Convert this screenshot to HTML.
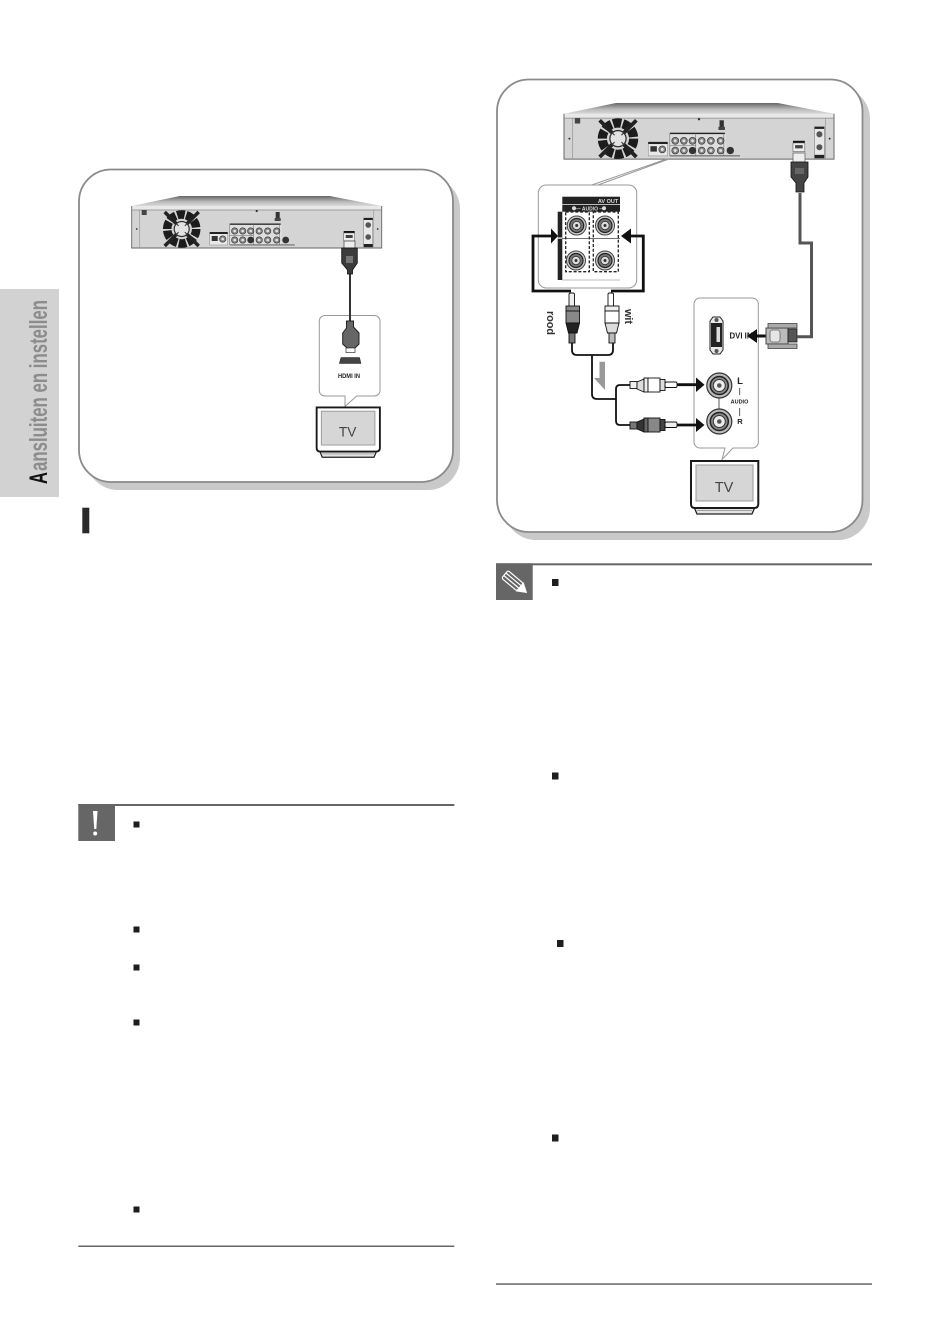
<!DOCTYPE html>
<html><head><meta charset="utf-8"><style>
html,body{margin:0;padding:0;background:#fff}
svg{display:block}
text{font-family:"Liberation Sans",sans-serif}
</style></head><body>
<svg xmlns="http://www.w3.org/2000/svg" width="950" height="1342" viewBox="0 0 950 1342">
<defs>
<linearGradient id="top" x1="0" y1="0" x2="0" y2="1"><stop offset="0" stop-color="#666"/><stop offset=".45" stop-color="#bbb"/><stop offset="1" stop-color="#f0f0f0"/></linearGradient>
<g id="jack"><circle r="3.2" fill="#888" stroke="#333" stroke-width=".6"/><circle r="1.3" fill="#e5e5e5"/></g>
<g id="device">
<path d="M0 10 48 0H198L250 10V13H0Z" fill="url(#top)"/>
<rect x="0" y="11" width="250" height="41" fill="#d4d4d4"/>
<rect x="0" y="10" width="250" height="4" fill="#e8e8e8"/>
<path d="M0 10V52H250V10" fill="none" stroke="#666" stroke-width=".9"/>
<path d="M8 14V52M242 14V52" stroke="#999" stroke-width=".7"/>
<path d="M0 14H250" stroke="#888" stroke-width=".7"/>
<rect x="10" y="14" width="5" height="5" fill="#444"/>
<circle cx="50" cy="33" r="14.500" fill="none" stroke="#1c1c1c" stroke-width="8.500" stroke-dasharray="7.500 1.600"/>
<path d="M33 16 67 50M67 16 33 50" stroke="#222" stroke-width="3.500"/>
<circle cx="50" cy="33" r="7.500" fill="#e2e2e2" stroke="#333" stroke-width="1.200"/>
<path d="M44 27 56 39M56 27 44 39" stroke="#333" stroke-width="1"/>
<circle cx="50" cy="33" r="4.500" fill="#e2e2e2"/>
<rect x="144" y="16" width="4" height="7" fill="#333"/><rect x="143" y="22" width="6" height="3" fill="#444"/>
<rect x="78" y="37" width="18" height="12" fill="#e8e8e8" stroke="#888" stroke-width=".5"/>
<rect x="78" y="36" width="18" height="2" fill="#222"/>
<rect x="80" y="40" width="6" height="5" fill="#333"/><use href="#jack" x="91" y="43"/>
<rect x="98" y="29" width="52" height="19" fill="#dedede"/>
<rect x="98" y="27.500" width="51" height="1.300" fill="#222"/>
<path d="M98 28V49M122 28V49M148 28V49M98 39.500H122" stroke="#666" stroke-width=".5"/>
<rect x="98" y="48.500" width="65" height=".9" fill="#555"/>
<use href="#jack" x="103" y="35"/><use href="#jack" x="111" y="35"/><use href="#jack" x="119" y="35"/>
<use href="#jack" x="103" y="44"/><use href="#jack" x="111" y="44"/><circle cx="119" cy="44" r="3.400" fill="#333"/>
<use href="#jack" x="127.500" y="35"/><use href="#jack" x="136" y="35"/><use href="#jack" x="145" y="35"/>
<use href="#jack" x="127.500" y="44"/><use href="#jack" x="136" y="44"/><use href="#jack" x="145" y="44"/>
<circle cx="154" cy="44" r="3.400" fill="#333"/>
<rect x="212" y="35" width="11" height="2" fill="#111"/><rect x="212" y="37" width="11" height="8" fill="#eee" stroke="#555" stroke-width=".5"/><rect x="214" y="39" width="7" height="3" fill="#444"/>
<rect x="232" y="22" width="9" height="29" fill="#e8e8e8" stroke="#777" stroke-width=".5"/>
<rect x="232" y="22" width="9" height="2" fill="#222"/><rect x="232" y="48" width="9" height="3" fill="#222"/>
<circle cx="236.500" cy="29" r="2.800" fill="#555"/><circle cx="236.500" cy="41" r="2.800" fill="#555"/>
<circle cx="5" cy="33" r=".9" fill="#333"/><circle cx="246" cy="33" r=".9" fill="#333"/><circle cx="125" cy="15" r="1.100" fill="#333"/>
</g>
<g id="tv">
<path d="M4 47 7 54H62L65 47Z" fill="#e4e4e4" stroke="#222" stroke-width="1.300"/>
<path d="M7 50.500H62" stroke="#888" stroke-width=".7"/>
<path d="M1 1H68.300V44Q68.300 48 64 48H5Q1 48 1 44Z" fill="#fff" stroke="#1a1a1a" stroke-width="2"/>
<rect x="6" y="5" width="57" height="36" fill="#d6d6d6" stroke="#999" stroke-width="1"/>
<text x="34" y="32" font-size="14.500" fill="#444" text-anchor="middle">TV</text>
</g>
<g id="bigjack"><circle r="12.500" fill="#bbb" stroke="#333" stroke-width="1.200"/><circle r="9" fill="#888" stroke="#222" stroke-width="1.500"/><circle r="6" fill="#eee" stroke="#333" stroke-width="1"/><circle r="2.300" fill="#555"/></g>
<g id="jack2"><circle r="9.500" fill="#ccc" stroke="#444" stroke-width="1"/><circle r="7" fill="#777" stroke="#222" stroke-width="1.200"/><circle r="4.200" fill="#ddd" stroke="#333" stroke-width=".8"/><circle r="1.500" fill="#333"/></g>
</defs>

<!-- sidebar -->
<rect x="0" y="289" width="59" height="208" fill="#d2d2d2"/>
<g transform="translate(47,484) rotate(-90)">
<text x="0" y="0" font-size="25" font-weight="bold" fill="#111" textLength="12" lengthAdjust="spacingAndGlyphs">A</text>
<text x="13" y="0" font-size="25" font-weight="bold" fill="#8c8c8c" textLength="171" lengthAdjust="spacingAndGlyphs">ansluiten en instellen</text>
</g>

<!-- left panel -->
<rect x="86" y="177" width="374" height="313" rx="32" fill="#c9c9c9"/>
<rect x="79" y="169.500" width="374" height="312.500" rx="32" fill="#fff" stroke="#8a8a8a" stroke-width="1.800"/>
<use href="#device" transform="translate(131.700,196)"/>
<path d="M350 270V322" stroke="#333" stroke-width="2"/>
<path d="M344 241V248H355V241Z" fill="#eee" stroke="#444" stroke-width=".7"/>
<path d="M341.700 248H357.300V263L352.500 270V274H347.500V270L341.700 263Z" fill="#3b3b3b" stroke="#111" stroke-width=".8"/>
<rect x="346" y="256" width="7" height="7" fill="#777"/>
<path d="M319.300 321a5.500 5.500 0 0 1 5.500-5.500H374.500a5.500 5.500 0 0 1 5.500 5.500V390.500a5.500 5.500 0 0 1-5.500 5.500H356.700L345 406.500V396H324.800a5.500 5.500 0 0 1-5.500-5.500Z" fill="#fff" stroke="#999" stroke-width="1"/>
<path d="M350 315V322" stroke="#333" stroke-width="2"/>
<path d="M346.500 321H353.500V327L359 333V344L355 348H347L342.700 344V333L346.500 328Z" fill="#666" stroke="#222" stroke-width="1"/>
<rect x="346" y="348" width="9" height="4.500" fill="#fff" stroke="#333" stroke-width=".7"/>
<path d="M341 357.500H359.500L361 363.500H339.300Z" fill="#444" stroke="#222" stroke-width=".5"/>
<text x="349" y="378" font-size="6.500" font-weight="bold" fill="#222" text-anchor="middle" textLength="22" lengthAdjust="spacingAndGlyphs">HDMI IN</text>
<use href="#tv" transform="translate(315.700,406.500) scale(.94,.94)"/>

<!-- left lower -->
<rect x="82.300" y="507.700" width="7" height="25.600" fill="#2a2a2a"/>
<rect x="78.300" y="804" width="376" height="2" fill="#666"/>
<rect x="78.300" y="804" width="36.700" height="37" fill="#666"/>
<path d="M93 811H97.500L96.300 829H94.200Z" fill="#fff"/><circle cx="95.200" cy="833.500" r="2" fill="#fff"/>
<g fill="#1e1e1e">
<rect x="133.500" y="821.500" width="6" height="6"/>
<rect x="133.500" y="926.500" width="6" height="6"/>
<rect x="133.500" y="964.500" width="6" height="6"/>
<rect x="133.500" y="1019.500" width="6" height="6"/>
<rect x="133.500" y="1206.500" width="6" height="6"/>
</g>
<rect x="78.300" y="1245.500" width="376" height="1.500" fill="#666"/>

<!-- right panel -->
<rect x="504" y="87" width="366" height="453" rx="32" fill="#c9c9c9"/>
<rect x="497" y="79.500" width="365.500" height="452.500" rx="32" fill="#fff" stroke="#8a8a8a" stroke-width="1.800"/>
<use href="#device" transform="translate(564,103) scale(1.08)"/>

<path d="M591.700 185 666.700 159M598 185 669 159" stroke="#999" stroke-width="1" fill="none"/>
<rect x="538.300" y="185" width="98.400" height="103" rx="8" fill="#fff" stroke="#999" stroke-width="1"/>
<rect x="562.300" y="196.700" width="57.700" height="7.600" fill="#222"/>
<text x="608" y="202.800" font-size="5.500" font-weight="bold" fill="#ddd" text-anchor="middle">AV OUT</text>
<rect x="562.300" y="205" width="57.700" height="6.700" fill="#222"/>
<text x="590" y="210.300" font-size="5" font-weight="bold" fill="#ddd" text-anchor="middle">— AUDIO —</text>
<circle cx="574" cy="208.300" r="2" fill="#ddd"/><circle cx="604" cy="208.300" r="2" fill="#ddd"/>
<rect x="557.700" y="211.700" width="4.600" height="68.300" fill="#222"/>
<rect x="557.700" y="237.500" width="4.600" height="1.200" fill="#fff"/>
<path d="M562 238.500H620" stroke="#444" stroke-width=".8"/>
<path d="M562 280H620" stroke="#aaa" stroke-width=".8"/>
<g fill="none" stroke="#222" stroke-width="1.300" stroke-dasharray="3 1.800">
<rect x="565.700" y="212" width="23.600" height="59.700"/>
<rect x="593.300" y="212" width="25" height="59.700"/>
</g>
<use href="#jack2" x="576.700" y="225.500"/><use href="#jack2" x="605" y="225.500"/>
<use href="#jack2" x="576" y="260.500"/><use href="#jack2" x="605" y="260.500"/>

<path d="M552 236H533V291H571" fill="none" stroke="#111" stroke-width="2.800"/>
<path d="M623 236H643.300V291H611" fill="none" stroke="#111" stroke-width="2.800"/>
<path d="M551 228.500 558 236 551 243.500Z" fill="#111"/>
<path d="M631 228.500 621 236 631 243.500Z" fill="#111"/>

<!-- rca vertical plugs -->
<g stroke="#111" stroke-width=".9">
<rect x="569" y="293" width="5.500" height="14" rx="1.500" fill="#eee"/>
<rect x="566" y="306" width="13.500" height="5" fill="#888"/>
<rect x="566" y="311" width="13.500" height="12" fill="#888"/>
<path d="M566 323H579.500L577 333H568.500Z" fill="#222"/>
<rect x="569" y="333" width="6" height="10" fill="#777"/>
<rect x="608" y="293" width="5.500" height="14" rx="1.500" fill="#fff"/>
<rect x="605" y="306" width="14" height="5" fill="#eee"/>
<rect x="605" y="311" width="14" height="12" fill="#fff"/>
<path d="M605 323H619L616.500 333H607.500Z" fill="#ddd"/>
<rect x="609" y="333" width="6" height="10" fill="#bbb"/>
</g>
<text transform="translate(547,311) rotate(90)" font-size="11" font-weight="bold" fill="#333" textLength="24" lengthAdjust="spacing">rood</text>
<text transform="translate(625,309) rotate(90)" font-size="11" font-weight="bold" fill="#333" textLength="15" lengthAdjust="spacing">wit</text>
<path d="M572 343V350Q572 355 577 355H608Q613 355 613 350V343" fill="none" stroke="#111" stroke-width="1.800"/>
<path d="M592 355V394Q592 399 597 399H616M630 385H620Q616 385 616 389V421Q616 425 620 425H630" fill="none" stroke="#111" stroke-width="1.800"/>
<path d="M599.500 361.700H605V390L594 378H599.500Z" fill="#999"/>

<!-- right TV inset -->
<path d="M694 304a6 6 0 0 1 6-6H752.300a6 6 0 0 1 6 6V442a6 6 0 0 1-6 6H733L722 459.500 725 448H700a6 6 0 0 1-6-6Z" fill="#fff" stroke="#999" stroke-width="1"/>

<!-- horizontal rca plugs -->
<g stroke="#111" stroke-width=".9">
<rect x="630" y="381.500" width="7" height="7" fill="#eee"/>
<path d="M637 382 644 379V392L637 389Z" fill="#ddd"/>
<rect x="644" y="378" width="4" height="14" fill="#eee"/>
<rect x="648" y="378" width="12" height="14" fill="#fff"/>
<rect x="660" y="379.500" width="5" height="11" fill="#ddd"/>
<rect x="665" y="382" width="12" height="5.500" rx="1.500" fill="#fff"/>
<rect x="630" y="422" width="7" height="7" fill="#777"/>
<path d="M637 422 644 419V432L637 429Z" fill="#333"/>
<rect x="644" y="418" width="4" height="14" fill="#666"/>
<rect x="648" y="418" width="12" height="14" fill="#888"/>
<rect x="660" y="419.500" width="5" height="11" fill="#444"/>
<rect x="665" y="422" width="12" height="5.500" rx="1.500" fill="#eee"/>
</g>
<path d="M677 384.700H698M677 425H698" stroke="#111" stroke-width="2.800"/>
<path d="M696 377.500 704.500 384.700 696 392Z M696 418 704.500 425 696 432Z" fill="#111"/>
<path d="M719 390V416" stroke="#333" stroke-width=".8"/>
<use href="#bigjack" x="719.300" y="385.500"/><use href="#bigjack" x="719.300" y="421.500"/>
<text x="740" y="384" font-size="9.500" font-weight="bold" fill="#222" text-anchor="middle">L</text>
<path d="M739.700 388V395M739.700 408V416" stroke="#333" stroke-width=".8"/>
<text x="739.500" y="403.500" font-size="5.500" font-weight="bold" fill="#222" text-anchor="middle">AUDIO</text>
<text x="740" y="424" font-size="7.500" font-weight="bold" fill="#222" text-anchor="middle">R</text>
<use href="#tv" transform="translate(690,460)"/>

<!-- DVI -->
<path d="M713 317H720L723 321V350L720 354H713L710 350V321Z" fill="#e8e8e8" stroke="#222" stroke-width="1"/>
<rect x="711" y="323" width="11" height="24" fill="#222"/>
<rect x="716.500" y="327" width="3.500" height="15" fill="#ddd"/>
<circle cx="716.500" cy="320" r="2" fill="#555"/><circle cx="716.500" cy="351" r="2" fill="#555"/>
<text x="729.500" y="338.700" font-size="7.800" font-weight="bold" fill="#222">DVI IN</text>
<path d="M766 336H755" stroke="#111" stroke-width="3"/>
<path d="M757 329 747 336 757 343Z" fill="#111"/>
<path d="M766 328H788V344H766Z" fill="#bbb" stroke="#444" stroke-width="1"/>
<rect x="768" y="323.500" width="29" height="4.500" fill="#aaa" stroke="#444" stroke-width=".8"/>
<rect x="768" y="344" width="29" height="4.500" fill="#aaa" stroke="#444" stroke-width=".8"/>
<rect x="770" y="330" width="10" height="12" rx="2.500" fill="#e6e6e6" stroke="#666" stroke-width=".8"/>
<rect x="788" y="329" width="9" height="13" fill="#555" stroke="#222" stroke-width=".8"/>
<path d="M797 336.700H811.500V243H800V193" fill="none" stroke="#555" stroke-width="3"/>

<!-- HDMI right -->
<rect x="793" y="153" width="12" height="9" fill="#eee" stroke="#555" stroke-width=".7"/>
<path d="M791 162H808V177L804 183V192H796V183L791 177Z" fill="#444" stroke="#111" stroke-width=".8"/>
<rect x="795" y="168" width="9" height="6" fill="#666"/>

<!-- note right -->
<rect x="496" y="563.300" width="376" height="2" fill="#666"/>
<rect x="496" y="563.300" width="36.700" height="36.700" fill="#666"/>
<g transform="rotate(40 514 582)" fill="none" stroke="#fff" stroke-width="1.200">
<rect x="502" y="577" width="20" height="10" rx="2"/>
<path d="M502 580.300H522M502 583.600H522"/>
<path d="M522 577 530 582 522 587Z" fill="#fff"/>
</g>
<g fill="#1e1e1e">
<rect x="552" y="579" width="6.500" height="7"/>
<rect x="552" y="772.500" width="6.500" height="7"/>
<rect x="557" y="940" width="6.500" height="7"/>
<rect x="552" y="1134.500" width="6.500" height="7"/>
</g>
<rect x="496" y="1283.300" width="376" height="1.500" fill="#666"/>
</svg>
</body></html>
